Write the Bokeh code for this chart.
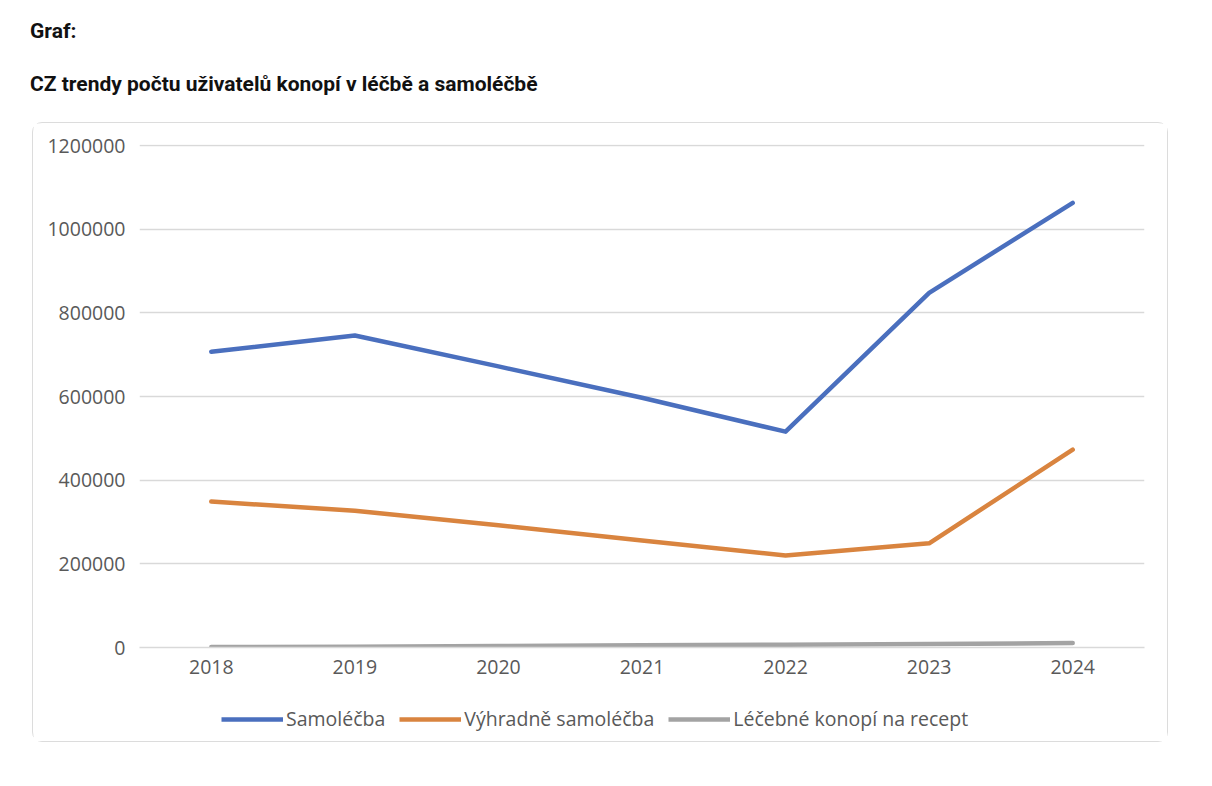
from bokeh.plotting import figure
from bokeh.models import Div, Range1d, FixedTicker, NumeralTickFormatter, Legend, LegendItem, Spacer
from bokeh.layouts import column, row
from bokeh.embed import file_html
from bokeh.resources import INLINE

years = ["2018", "2019", "2020", "2021", "2022", "2023", "2024"]
samolecba = [707000, 746000, 672000, 597000, 516000, 848000, 1063000]
vyhradne = [349000, 327000, 292000, 256000, 220000, 249000, 473000]
recept = [1000, 2000, 3500, 5500, 6500, 8500, 10500]
y_ticks = [0, 200000, 400000, 600000, 800000, 1000000, 1200000]

series_names = ["Samoléčba", "Výhradně samoléčba", "Léčebné konopí na recept"]
colors = ["#4a6fbe", "#d9843f", "#a3a3a3"]
series = [samolecba, vyhradne, recept]

title_div = Div(
    text=(
        '<div style="font-family:Roboto; font-weight:bold; font-size:21px; color:#111; line-height:24px; padding-left:30px;">'
        '<div style="margin-top:19px; height:24px; white-space:nowrap;">Graf:</div>'
        '<div style="margin-top:29px; height:24px; white-space:nowrap;">CZ trendy počtu uživatelů konopí v léčbě a samoléčbě</div>'
        '</div>'
    ),
    width=1190, height=122, margin=0,
)

p = figure(
    x_range=years, y_range=Range1d(0, 1202500),
    width=1134, height=576, output_backend="svg", toolbar_location=None,
    min_border_left=106, min_border_right=23, min_border_top=21, min_border_bottom=52,
    margin=0,
)
p.outline_line_color = None
p.xgrid.grid_line_color = None
p.ygrid.grid_line_color = "#d9d9d9"
p.ygrid.grid_line_width = 1.5
p.yaxis.ticker = FixedTicker(ticks=y_ticks)
p.yaxis.formatter = NumeralTickFormatter(format="0")
for ax in (p.xaxis, p.yaxis):
    ax.major_tick_line_color = None
    ax.minor_tick_line_color = None
    ax.major_label_text_font = "Open Sans"
    ax.major_label_text_font_size = "19.5px"
    ax.major_label_text_color = "#595959"
p.yaxis.axis_line_color = None
p.xaxis.axis_line_color = "#d9d9d9"
p.xaxis.axis_line_width = 1.5
p.yaxis.major_label_standoff = 8
p.xaxis.major_label_standoff = 6

for vals, c in zip(series, colors):
    p.line(years, vals, line_color=c, line_width=4.5, line_cap="round", line_join="round")

# legend strip under the chart (its lines lie outside its visible range)
lg = figure(
    width=1134, height=42, output_backend="svg", toolbar_location=None,
    x_range=Range1d(0, 1), y_range=Range1d(0, 1),
    min_border=0, margin=0,
)
lg.axis.visible = False
lg.grid.visible = False
lg.outline_line_color = None
leg_renderers = [lg.line(list(range(len(years))), vals, line_color=c, line_width=4.5)
                 for vals, c in zip(series, colors)]
legend = Legend(
    items=[LegendItem(label=n, renderers=[r]) for n, r in zip(series_names, leg_renderers)],
    orientation="horizontal", location=(82, 9),
    glyph_width=62, glyph_height=20, label_standoff=3, spacing=14,
    label_text_font="Open Sans", label_text_font_size="19.5px", label_text_color="#595959",
    border_line_color=None, background_fill_alpha=0, margin=0, padding=0,
)
lg.add_layout(legend)

chart_box = column(p, lg, spacing=0,
                   styles={"border": "1.5px solid #dcdcdc", "border-radius": "10px"})
layout = column(title_div, row(Spacer(width=32, height=10), chart_box, spacing=0), spacing=0)
open("out.html", "w").write(file_html(layout, INLINE))
